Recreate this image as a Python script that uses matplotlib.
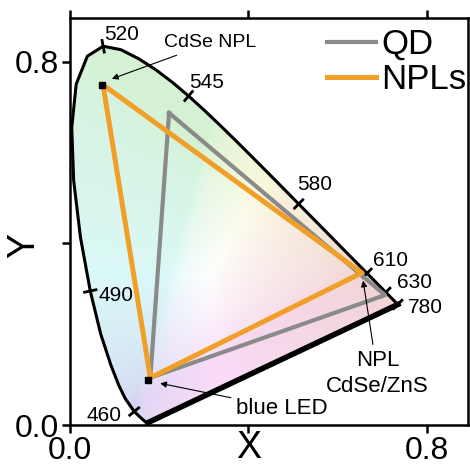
import numpy as np
import matplotlib.pyplot as plt
from matplotlib.patches import Polygon

plt.rcParams['font.family'] = ['Liberation Sans', 'DejaVu Sans']

# CIE 1931 spectral locus
wl = [380, 420, 440, 450, 460, 470, 475, 480, 485, 490, 495, 500, 505, 510,
      515, 520, 525, 530, 535, 540, 545, 550, 555, 560, 565, 570, 575, 580,
      585, 590, 595, 600, 605, 610, 620, 630, 640, 650, 660, 680, 780]
loc_x = [0.1741, 0.1714, 0.1644, 0.1566, 0.1440, 0.1241, 0.1096, 0.0913, 0.0687,
         0.0454, 0.0235, 0.0082, 0.0039, 0.0139, 0.0389, 0.0743, 0.1142, 0.1547,
         0.1929, 0.2296, 0.2658, 0.3016, 0.3373, 0.3731, 0.4087, 0.4441, 0.4788,
         0.5125, 0.5448, 0.5752, 0.6029, 0.6270, 0.6482, 0.6658, 0.6915, 0.7079,
         0.7190, 0.7260, 0.7300, 0.7334, 0.7347]
loc_y = [0.0050, 0.0051, 0.0109, 0.0177, 0.0297, 0.0578, 0.0868, 0.1327, 0.2007,
         0.2950, 0.4127, 0.5384, 0.6548, 0.7502, 0.8120, 0.8338, 0.8262, 0.8059,
         0.7816, 0.7543, 0.7243, 0.6923, 0.6589, 0.6245, 0.5896, 0.5547, 0.5202,
         0.4866, 0.4544, 0.4242, 0.3965, 0.3725, 0.3514, 0.3340, 0.3083, 0.2920,
         0.2809, 0.2740, 0.2700, 0.2666, 0.2653]

# labelled wavelengths and label anchor positions
mark_wl = [460, 490, 520, 545, 580, 610, 630, 780]
mark_tx = [0.115, 0.063, 0.076, 0.267, 0.508, 0.679, 0.733, 0.757]
mark_ty = [0.022, 0.286, 0.859, 0.755, 0.529, 0.363, 0.313, 0.258]

# colour gamut triangles (green, red, blue)
qd_x = [0.222, 0.706, 0.180]
qd_y = [0.687, 0.286, 0.104]
npl_x = [0.074, 0.654, 0.180]
npl_y = [0.749, 0.335, 0.104]

fig = plt.figure(figsize=(4.70, 4.73), dpi=100)
ax = fig.add_axes([70/470, 48/473, 398/470, 407/473])

# pale chromaticity background
gx, gy = np.meshgrid(np.linspace(0, 0.8, 320), np.linspace(0.002, 0.9, 360))
XYZ = np.stack([gx/gy, np.ones_like(gx), (1-gx-gy)/gy])
M = np.array([[3.2406, -1.5372, -0.4986],
              [-0.9689, 1.8758, 0.0415],
              [0.0557, -0.2040, 1.0570]])
rgb = np.tensordot(M, XYZ, axes=1)
rgb = np.clip(rgb, 0, None)
rgb = rgb / rgb.max(axis=0, keepdims=True)
rgb = np.where(rgb <= 0.0031308, 12.92*rgb, 1.055*rgb**(1/2.4) - 0.055)
rgb = np.clip(rgb, 0, 1).transpose(1, 2, 0)
lum = rgb.mean(axis=2, keepdims=True)
rgb = 0.6*rgb + 0.4*lum
pale = 0.97*(1 - 0.2*(1 - rgb)) + 0.03
img = ax.imshow(pale, extent=[0, 0.8, 0.002, 0.9], origin='lower', aspect='auto', zorder=0)
clip = Polygon(np.column_stack([loc_x, loc_y]), closed=True, transform=ax.transData)
img.set_clip_path(clip)

ax.plot(loc_x, loc_y, color='black', lw=2.2, zorder=2)
ax.plot([loc_x[0], loc_x[-1]], [loc_y[0], loc_y[-1]], color='black', lw=4, zorder=2)

# ticks on the locus
for w, tx, ty in zip(mark_wl, mark_tx, mark_ty):
    i = wl.index(w)
    a = max(i-1, 0)
    b = min(i+1, len(wl)-1)
    dx, dy = loc_x[b]-loc_x[a], loc_y[b]-loc_y[a]
    n = np.hypot(dx, dy)
    nx, ny = -dy/n*0.013, dx/n*0.013
    ax.plot([loc_x[i]-nx, loc_x[i]+nx], [loc_y[i]-ny, loc_y[i]+ny], color='black', lw=2, zorder=3)
    ha = 'right' if w == 460 else 'left'
    ax.text(tx, ty, str(w), fontsize=15, ha=ha, va='center', zorder=5)

ax.plot(qd_x + qd_x[:1], qd_y + qd_y[:1], color='#8a8a8a', lw=3, label='QD', zorder=3)
ax.plot(npl_x + npl_x[:1], npl_y + npl_y[:1], color='#f0a028', lw=3.6, label='NPLs', zorder=4)

ax.plot([0.072, 0.175], [0.749, 0.099], 's', color='black', ms=5, zorder=5)

arrow = dict(arrowstyle='-|>', color='black', lw=0.8, mutation_scale=9)
ax.annotate('CdSe NPL', xy=(0.088, 0.760), xytext=(0.211, 0.841), fontsize=14,
            va='center', ha='left', arrowprops=arrow, zorder=6)
ax.annotate('NPL\nCdSe/ZnS', xy=(0.656, 0.324), xytext=(0.689, 0.113), fontsize=16,
            va='center', ha='center', linespacing=1.35, arrowprops=arrow, zorder=6)
ax.annotate('blue LED', xy=(0.196, 0.093), xytext=(0.373, 0.037), fontsize=16,
            va='center', ha='left', arrowprops=arrow, zorder=6)

ax.set_xlim(0, 0.892)
ax.set_ylim(0, 0.896)
ax.set_xticks([0, 0.4, 0.8])
ax.set_xticklabels(['0.0', '', '0.8'])
ax.set_yticks([0, 0.4, 0.8])
ax.set_yticklabels(['0.0', '', '0.8'])
ax.tick_params(direction='out', length=6, width=1.8, labelsize=23, top=True, pad=2)
for s in ax.spines.values():
    s.set_linewidth(1.8)
ax.set_xlabel('X', fontsize=27)
ax.xaxis.set_label_coords(0.45, -0.012)
ax.set_ylabel('Y', fontsize=27)
ax.yaxis.set_label_coords(-0.07, 0.442)

ax.legend(loc='upper right', bbox_to_anchor=(0.995, 0.975), frameon=False, fontsize=25,
          handlelength=1.4, handletextpad=0.15, labelspacing=0.05, borderpad=0, borderaxespad=0)

fig.savefig('out.png', dpi=100)
